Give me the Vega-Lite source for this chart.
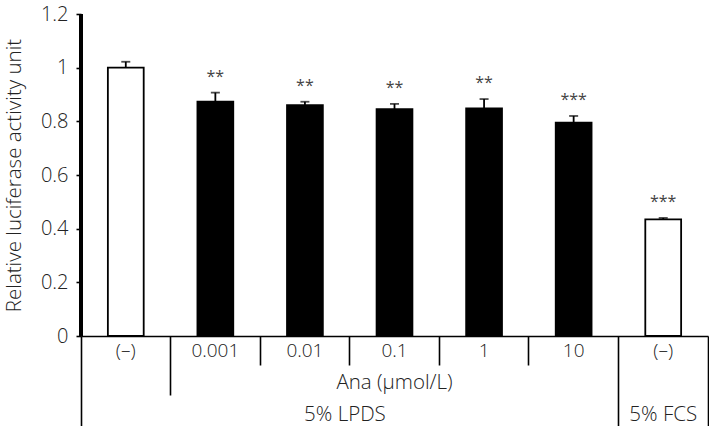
{
  "$schema": "https://vega.github.io/schema/vega-lite/v6.json",
  "autosize": "none",
  "width": 627,
  "height": 322,
  "padding": {"left": 81, "top": 14, "right": 1, "bottom": 90},
  "background": "white",
  "config": {
    "view": {"stroke": null},
    "font": "Open Sans",
    "axis": {"labelFont": "Open Sans", "titleFont": "Open Sans", "labelColor": "#222", "titleColor": "#222", "domainColor": "black", "tickColor": "black", "domainWidth": 1.6, "tickWidth": 1.6, "grid": false, "labelFontSize": 19, "titleFontSize": 20.5, "titleFontWeight": 300, "labelFontWeight": 300},
    "axisY": {"domain": true, "domainColor": "black", "domainWidth": 1.6}
  },
  "data": {
    "values": [
      {"cat": "ctrl", "value": 1.0, "upper": 1.022, "sig": "", "group": "open"},
      {"cat": "0.001", "value": 0.873, "upper": 0.907, "sig": "**", "group": "filled"},
      {"cat": "0.01", "value": 0.860, "upper": 0.873, "sig": "**", "group": "filled"},
      {"cat": "0.1", "value": 0.845, "upper": 0.865, "sig": "**", "group": "filled"},
      {"cat": "1", "value": 0.848, "upper": 0.883, "sig": "**", "group": "filled"},
      {"cat": "10", "value": 0.795, "upper": 0.820, "sig": "***", "group": "filled"},
      {"cat": "FCS", "value": 0.435, "upper": 0.440, "sig": "***", "group": "open"}
    ]
  },
  "resolve": {"axis": {"x": "independent"}},
  "layer": [
    {
      "mark": {"type": "bar", "width": {"band": 0.4}, "stroke": "black", "strokeWidth": 1.8},
      "encoding": {
        "x": {"field": "cat", "type": "nominal", "sort": null,
          "scale": {"paddingInner": 0, "paddingOuter": 0},
          "axis": {"orient": "bottom", "title": null, "ticks": false, "labelAngle": 0, "labelBaseline": "alphabetic", "labelPadding": 20,
            "labelExpr": "datum.value == 'ctrl' || datum.value == 'FCS' ? '(–)' : datum.value"}},
        "y": {"field": "value", "type": "quantitative",
          "scale": {"domain": [0, 1.2], "nice": false},
          "axis": {"orient": "left", "domain": true, "zindex": 1, "title": "Relative luciferase activity unit", "values": [0, 0.2, 0.4, 0.6, 0.8, 1.0, 1.2], "format": ".1~f", "tickSize": 5, "labelPadding": 8, "titlePadding": 16, "labelFontSize": 20}},
        "fill": {"field": "group", "type": "nominal", "scale": {"domain": ["open", "filled"], "range": ["white", "black"]}, "legend": null}
      }
    },
    {
      "mark": {"type": "rule", "strokeWidth": 1.8, "color": "black"},
      "encoding": {
        "x": {"field": "cat", "type": "nominal", "sort": null,
          "axis": {"orient": "bottom", "title": null, "labels": false, "domain": false, "bandPosition": 0,
            "values": ["ctrl", "0.001", "0.01", "0.1", "1", "10", "FCS"],
            "tickSize": {"condition": [{"test": "datum.value == 'ctrl' || datum.value == 'FCS'", "value": 90}, {"test": "datum.value == '0.001'", "value": 59}], "value": 29}}},
        "y": {"field": "value", "type": "quantitative"},
        "y2": {"field": "upper"}
      }
    },
    {
      "mark": {"type": "tick", "size": 9, "thickness": 1.8, "color": "black", "orient": "horizontal"},
      "encoding": {
        "x": {"field": "cat", "type": "nominal", "sort": null,
          "axis": {"orient": "bottom", "title": null, "labels": false, "domain": false, "bandPosition": 1, "values": ["FCS"], "tickSize": 90}},
        "y": {"field": "upper", "type": "quantitative"}
      }
    },
    {
      "mark": {"type": "text", "fontSize": 16, "color": "#444", "baseline": "alphabetic", "dy": -11},
      "encoding": {
        "x": {"field": "cat", "type": "nominal", "sort": null,
          "axis": {"orient": "bottom", "title": null, "ticks": false, "domain": false, "labelAngle": 0, "labelBaseline": "alphabetic", "labelFontSize": 20.5, "values": ["0.1", "FCS"],
            "labelExpr": "datum.value == '0.1' ? 'Ana (μmol/L)' : '5% FCS'",
            "labelPadding": {"condition": {"test": "datum.value == '0.1'", "value": 52}, "value": 84}}},
        "y": {"field": "upper", "type": "quantitative"},
        "text": {"field": "sig"}
      }
    },
    {
      "mark": {"type": "tick", "opacity": 0},
      "encoding": {
        "x": {"field": "cat", "type": "nominal", "sort": null,
          "axis": {"orient": "bottom", "title": null, "ticks": false, "domain": false, "labelAngle": 0, "labelBaseline": "alphabetic", "labelFontSize": 20.5, "values": ["0.01"], "labelOffset": 40,
            "labelExpr": "'5% LPDS'", "labelPadding": 84}},
        "y": {"field": "value", "type": "quantitative"}
      }
    },
    {
      "mark": {"type": "rule", "strokeWidth": 3.4, "color": "black", "clip": false},
      "encoding": {
        "x": {"datum": "ctrl", "type": "nominal", "bandPosition": 0, "axis": null},
        "y": {"datum": 0, "type": "quantitative"},
        "y2": {"datum": 1.2}
      }
    }
  ]
}
